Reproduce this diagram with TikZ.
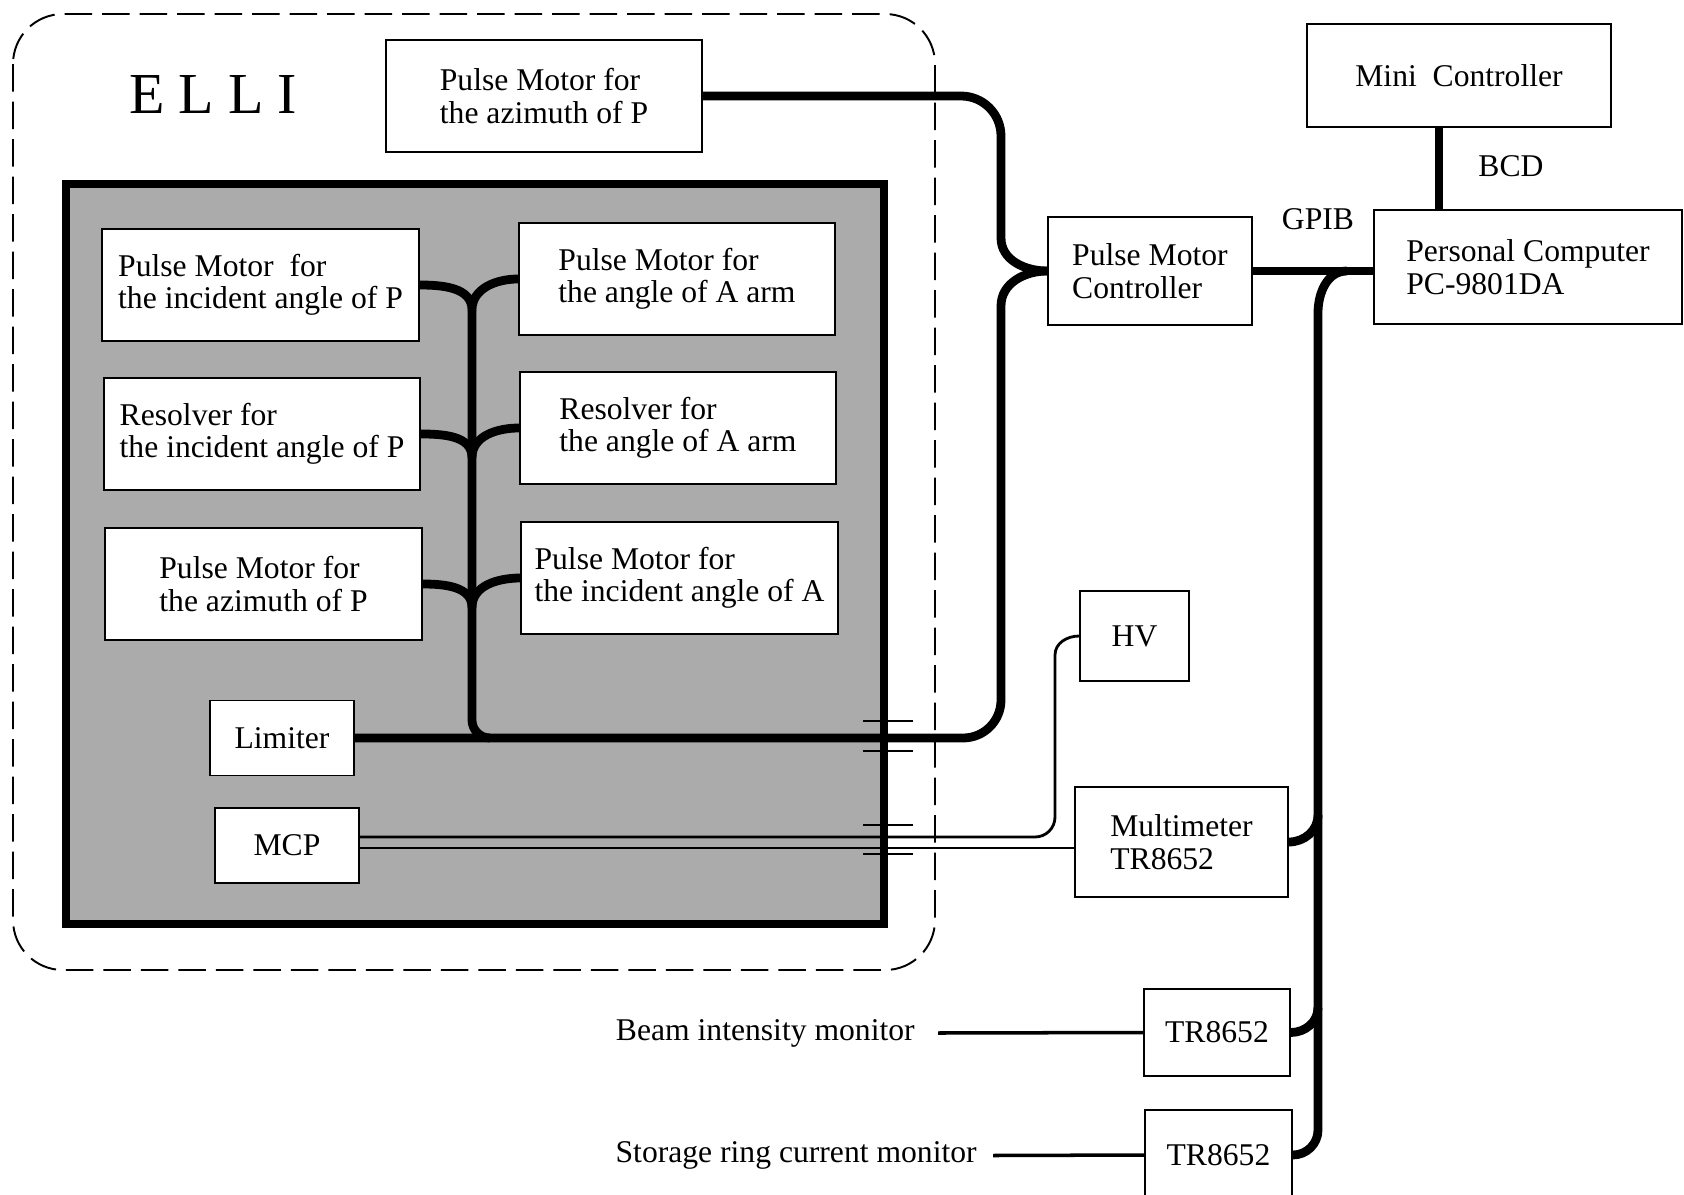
\documentclass[tikz,border=0pt]{standalone}
\usepackage{fontspec}
\setmainfont{Liberation Serif}
\begin{document}
\begin{tikzpicture}[
  box/.style={draw, line width=0.9pt, fill=white, align=left, inner sep=0pt,
              font=\fontsize{18}{18.5}\selectfont},
  wbox/.style={box, minimum width=6.33cm, minimum height=2.24cm},
  bus/.style={line width=5pt, line join=round},
  wire/.style={line width=1.6pt},
  lbl/.style={font=\fontsize{18}{18.5}\selectfont, inner sep=0pt}
]

  \useasboundingbox (0,0) rectangle (33.68,-23.9);

  % Contorno tracejado do ELLI
  \draw[line width=1.1pt, dash pattern=on 0.55cm off 0.2cm, rounded corners=1cm]
    (0.26,-0.28) rectangle (18.7,-19.4);
  \node[lbl, font=\fontsize{33}{36}\selectfont] (elli) at (4.26,-1.89)
    {E\hspace{8pt}L\hspace{8pt}L\hspace{8pt}I};

  % Camara (area cinza)
  \draw[line width=4.5pt, fill=black!33] (1.32,-3.68) rectangle (17.68,-18.48);

  % Caixas do ELLI
  \node[wbox] (pmP) at (10.88,-1.92) {Pulse Motor for\\the azimuth of P};
  \node[wbox] (lA) at (5.21,-5.70) {Pulse Motor~ for\\the incident angle of P};
  \node[wbox] (lB) at (5.24,-8.68) {Resolver for\\the incident angle of P};
  \node[wbox] (lC) at (5.27,-11.68) {Pulse Motor for\\the azimuth of P};
  \node[wbox] (rA) at (13.54,-5.58) {Pulse Motor for\\the angle of A arm};
  \node[wbox] (rB) at (13.56,-8.56) {Resolver for\\the angle of A arm};
  \node[wbox] (rC) at (13.59,-11.56) {Pulse Motor for\\the incident angle of A};
  \node[box, minimum width=2.88cm, minimum height=1.5cm] (lim) at (5.64,-14.76) {Limiter};
  \node[box, minimum width=2.88cm, minimum height=1.5cm] (mcp) at (5.74,-16.91) {MCP};

  % Instrumentos externos
  \node[box, minimum width=6.08cm, minimum height=2.06cm] (mc) at (29.18,-1.51) {Mini~ Controller};
  \node[box, minimum width=6.16cm, minimum height=2.28cm] (pc) at (30.56,-5.34)
    {Personal Computer\\PC-9801DA};
  \node[box, minimum width=4.08cm, minimum height=2.16cm] (pmc) at (23.0,-5.42)
    {Pulse Motor\\Controller};
  \node[box, minimum width=2.18cm, minimum height=1.8cm] (hv) at (22.69,-12.72) {HV};
  \node[box, minimum width=4.26cm, minimum height=2.2cm] (mm) at (23.63,-16.84)
    {Multimeter\\TR8652};
  \node[box, minimum width=2.92cm, minimum height=1.74cm] (tr1) at (24.34,-20.65) {TR8652};
  \node[box, minimum width=2.94cm, minimum height=1.8cm] (tr2) at (24.37,-23.1) {TR8652};

  % Rotulos
  \node[lbl] (gpib) at (26.36,-4.38) {GPIB};
  \node[lbl] (bcd) at (30.22,-3.32) {BCD};
  \node[lbl, anchor=east] (bim) at (18.3,-20.66) {Beam intensity monitor};
  \node[lbl, anchor=east] (srm) at (19.54,-23.11) {Storage ring current monitor};

  % Ramos dentro da camara
  \def\xs{9.44}
  \coordinate (jA) at (\xs,-6.2);
  \coordinate (jB) at (\xs,-9.15);
  \coordinate (jC) at (\xs,-12.15);
  \draw[bus] (lA.east) to[out=0,in=90] (jA) to[out=90,in=180] (rA.west);
  \draw[bus] (lB.east) to[out=0,in=90] (jB) to[out=90,in=180] (rB.west);
  \draw[bus] (lC.east) to[out=0,in=90] (jC) to[out=90,in=180] (rC.west);
  \draw[bus] (jA) -- (\xs,-14.4) to[out=-90,in=180] (9.8,-14.76);

  % Cabos do controlador de motores
  \draw[bus] (pmP.east) -- (19.22,-1.92) to[out=0,in=90] (20.02,-2.72)
    -- (20.02,-4.76) to[out=-90,in=180] (pmc.west);
  \draw[bus] (pmc.west) to[out=180,in=90] (20.02,-6.12) -- (20.02,-14.0)
    to[out=-90,in=0] (19.26,-14.76) -- (lim.east);

  % GPIB e BCD
  \draw[bus] (pmc.east) -- (pmc.east -| pc.west);
  \coordinate (bcdTop) at ([xshift=-0.4cm]mc.south);
  \draw[bus] (bcdTop) -- (bcdTop |- pc.north);
  \draw[bus] (26.94,-5.42) to[out=180,in=90] (26.36,-6.26) -- (26.36,-22.6)
    to[out=-90,in=0] (tr2.east);
  \draw[bus] (mm.east) to[out=0,in=-90] (26.36,-16.3);
  \draw[bus] (tr1.east) to[out=0,in=-90] (26.36,-20.15);

  % Cabos do MCP
  \draw[wire] ([yshift=0.17cm]mcp.east) -- (20.7,-16.74) to[out=0,in=-90] (21.1,-16.34)
    -- (21.1,-13.1) to[out=90,in=180] (hv.west);
  \coordinate (m2) at ([yshift=-0.05cm]mcp.east);
  \draw[wire] (m2) -- (m2 -| mm.west);

  % Passantes na parede da camara
  \foreach \y in {-14.42,-15.02,-16.5,-17.08}
    \draw[line width=1pt] (17.26,\y) -- (18.26,\y);

  % Monitores
  \draw[line width=2pt] ([xshift=0.46cm]bim.east) -- (tr1.west);
  \draw[line width=2pt] ([xshift=0.32cm]srm.east) -- (tr2.west);

\end{tikzpicture}
\end{document}
